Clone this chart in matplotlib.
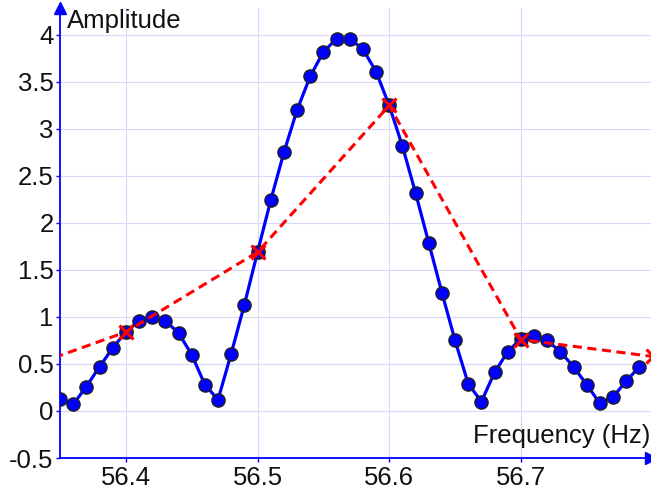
import matplotlib
matplotlib.use('Agg')
from matplotlib import pyplot as plt
from matplotlib.ticker import FuncFormatter

plt.rcParams['font.family'] = ['Liberation Sans', 'DejaVu Sans']

# fine spectrum (0.01 Hz steps)
freq_fine = [56.35, 56.36, 56.37, 56.38, 56.39, 56.40, 56.41, 56.42, 56.43, 56.44,
             56.45, 56.46, 56.47, 56.48, 56.49, 56.50, 56.51, 56.52, 56.53, 56.54,
             56.55, 56.56, 56.57, 56.58, 56.59, 56.60, 56.61, 56.62, 56.63, 56.64,
             56.65, 56.66, 56.67, 56.68, 56.69, 56.70, 56.71, 56.72, 56.73, 56.74,
             56.75, 56.76, 56.77, 56.78, 56.79]
amp_fine = [0.13, 0.07, 0.26, 0.47, 0.67, 0.84, 0.96, 1.00, 0.96, 0.83,
            0.60, 0.28, 0.12, 0.61, 1.13, 1.69, 2.24, 2.75, 3.20, 3.56,
            3.82, 3.96, 3.96, 3.85, 3.61, 3.25, 2.82, 2.32, 1.79, 1.26,
            0.75, 0.29, 0.10, 0.41, 0.63, 0.77, 0.80, 0.75, 0.63, 0.47,
            0.28, 0.08, 0.15, 0.32, 0.47]

# coarse spectrum (0.1 Hz steps)
freq_coarse = [56.3, 56.4, 56.5, 56.6, 56.7, 56.8]
amp_coarse = [0.34, 0.84, 1.69, 3.25, 0.76, 0.58]

xticks = [56.4, 56.5, 56.6, 56.7]
yticks = [-0.5, 0, 0.5, 1, 1.5, 2, 2.5, 3, 3.5, 4]

fig = plt.figure(figsize=(6.51, 4.91), dpi=100)
ax = fig.add_axes([60 / 651, 33 / 491, 591 / 651, 450 / 491])

ax.set_xlim(56.35, 56.7988)
ax.set_ylim(-0.5, 4.287)

ax.grid(True, color='#d8d8ff', linewidth=0.8)
ax.set_axisbelow(True)

ax.plot(freq_fine, amp_fine, color='#0000ff', linewidth=2.3, marker='o',
        markersize=9.5, markerfacecolor='#0000ff', markeredgecolor='#202020',
        markeredgewidth=1.0, zorder=3)
# points shared with the coarse grid are shown as squares
ax.plot(freq_fine[5::10], amp_fine[5::10], linestyle='none', marker='s',
        markersize=9, markerfacecolor='#0000ff', markeredgecolor='#202020',
        markeredgewidth=1.0, zorder=3.5)
ax.plot(freq_coarse, amp_coarse, color='#ff0000', linewidth=2.2, linestyle=(0, (3, 1.8)),
        marker='x', markersize=10, markeredgewidth=2.2, zorder=4, clip_on=True)

for s in ['top', 'right']:
    ax.spines[s].set_visible(False)
for s in ['left', 'bottom']:
    ax.spines[s].set_color('#0000ff')
    ax.spines[s].set_linewidth(1.3)

# axis arrows
ax.plot(0, 1, marker='^', color='#0000ff', markersize=9, transform=ax.transAxes, clip_on=False)
ax.plot(1, 0, marker='>', color='#0000ff', markersize=9, transform=ax.transAxes, clip_on=False)

ax.set_xticks(xticks)
ax.set_yticks(yticks)
fmt = FuncFormatter(lambda v, p: ('%g' % v))
ax.xaxis.set_major_formatter(fmt)
ax.yaxis.set_major_formatter(fmt)
ax.tick_params(axis='both', colors='#0000ff', labelcolor='#111111', labelsize=18.5,
               length=3, width=1)
ax.tick_params(axis='x', pad=3)
ax.tick_params(axis='y', pad=1.5)

ax.text(0.012, 0.998, 'Amplitude', transform=ax.transAxes, fontsize=18.5,
        ha='left', va='top', color='#111111')
ax.text(0.999, 0.022, 'Frequency (Hz)', transform=ax.transAxes, fontsize=18.5,
        ha='right', va='bottom', color='#111111')

fig.savefig('out.png', dpi=100)
